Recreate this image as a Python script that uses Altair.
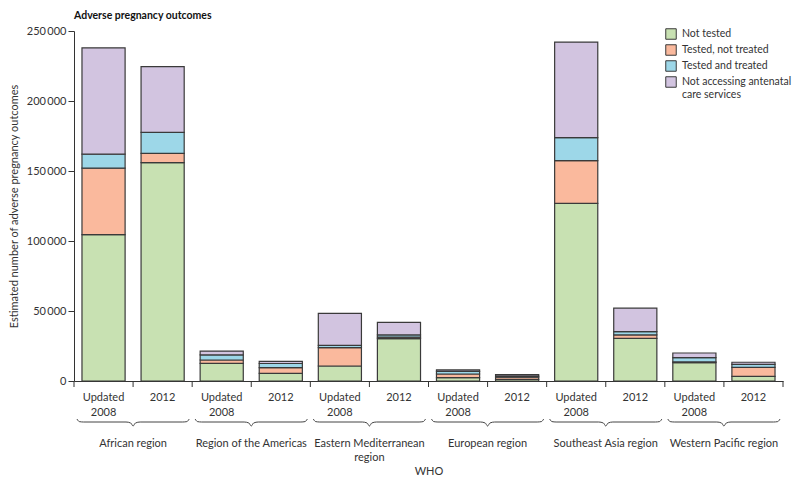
import altair as alt
import pandas as pd

regions = ["African region", "Region of the Americas", "Eastern Mediterranean region",
           "European region", "Southeast Asia region", "Western Pacific region"]
region_labels = ["African region", "Region of the Americas", "Eastern Mediterranean\nregion",
                 "European region", "Southeast Asia region", "Western Pacific region"]
periods = ["Updated 2008", "2012"]
categories = ["Not tested", "Tested, not treated", "Tested and treated",
              "Not accessing antenatal care services"]
colors = ["#c8e1b2", "#fab99d", "#9dd7e8", "#d2c4e0"]

# values per bar (thousands), order: region x period
not_tested = [104.5, 156.0, 12.6, 5.5, 10.7, 30.2, 2.4, 1.2, 126.9, 30.5, 13.1, 3.3]
tested_not_treated = [47.5, 6.6, 2.4, 4.0, 13.1, 1.2, 2.6, 1.5, 30.5, 2.4, 0.5, 6.5]
tested_treated = [10.0, 15.0, 3.6, 3.0, 1.7, 1.5, 1.9, 0.8, 16.4, 2.3, 3.1, 2.1]
not_accessing = [76.0, 47.0, 2.8, 1.5, 22.8, 9.0, 1.0, 1.0, 68.3, 16.8, 3.3, 1.5]

series = [not_tested, tested_not_treated, tested_treated, not_accessing]

W, H = 709, 350
FONT = "Lato"
TXT = "#333333"

keys = [f"{r}|{p}" for r in regions for p in periods]
rows = []
for ci, (cat, vals) in enumerate(zip(categories, series)):
    for k, v in zip(keys, vals):
        rows.append({"bar": k, "category": cat, "rank": ci, "value": v * 1000})
bars_df = pd.DataFrame(rows)

bars = alt.Chart(bars_df).mark_bar(stroke="#3a3a3a", strokeWidth=1.2).encode(
    x=alt.X("bar:N", sort=keys,
            scale=alt.Scale(paddingInner=0.27, paddingOuter=0.135),
            axis=alt.Axis(title="WHO", labelAngle=0, ticks=False,
                          labelExpr="indexof(datum.value, 'Updated') >= 0 ? ['Updated', '2008'] : '2012'",
                          labelLineHeight=15, titlePadding=48,
                          labelPadding=10)),
    y=alt.Y("value:Q", scale=alt.Scale(domain=[0, 250000], nice=False),
            axis=alt.Axis(title="Estimated number of adverse pregnancy outcomes",
                          values=[0, 50000, 100000, 150000, 200000, 250000],
                          labelExpr="replace(format(datum.value, ','), ',', '\u2009')",
                          tickSize=6, titlePadding=7, labelPadding=2)),
    color=alt.Color("category:N", sort=categories,
                    scale=alt.Scale(domain=categories, range=colors),
                    legend=alt.Legend(title=None, orient="none", legendX=591, legendY=-3,
                                      padding=0, symbolType="square", symbolSize=110,
                                      symbolStrokeColor="#3a3a3a", symbolStrokeWidth=1,
                                      labelFontSize=10.5, labelFont=FONT, labelColor=TXT,
                                      rowPadding=0, labelOffset=5, labelLimit=300,
                                      labelExpr="datum.label == 'Not accessing antenatal care services' ? ['Not accessing antenatal', 'care services'] : datum.label")),
    order=alt.Order("rank:Q"),
)

# tick marks at the boundaries between bars (slot edges 0..12)
tick_df = pd.DataFrame({"xpos": list(range(len(keys) + 1))})
ticks = alt.Chart(tick_df).mark_rule(color="#333333", strokeWidth=1, clip=False).encode(
    x=alt.X("xpos:Q", scale=alt.Scale(domain=[0, 12], nice=False, zero=False), axis=None),
    y=alt.value(H),
    y2=alt.value(H + 6),
)

# brace shape template (fraction along region span, depth)
brace_t = [0.025, 0.045, 0.08, 0.44, 0.48, 0.5, 0.52, 0.56, 0.92, 0.955, 0.975]
brace_d = [0, 2.6, 3, 3, 4, 7, 4, 3, 3, 2.6, 0]
brace_rows = []
for ri, r in enumerate(regions):
    for t, d in zip(brace_t, brace_d):
        brace_rows.append({"region": r, "xpos": 2 * ri + 2 * t, "depth": d})
braces = alt.Chart(pd.DataFrame(brace_rows)).mark_line(
    color="#444444", strokeWidth=1, interpolate="monotone", clip=False).encode(
    x=alt.X("xpos:Q", scale=alt.Scale(domain=[0, 12], nice=False, zero=False), axis=None),
    y=alt.Y("depth:Q", scale=alt.Scale(domain=[0, 10], range=[H + 38, H + 48], nice=False, zero=False), axis=None),
    detail="region:N",
)

lab_df = pd.DataFrame({"xpos": [2 * i + 1 for i in range(len(regions))], "label": region_labels})
labels = alt.Chart(lab_df).mark_text(
    font=FONT, fontSize=11, color=TXT, baseline="top", lineBreak="\n", lineHeight=14).encode(
    x=alt.X("xpos:Q", scale=alt.Scale(domain=[0, 12], nice=False, zero=False), axis=None),
    y=alt.value(H + 57),
    text="label:N",
)

chart = alt.layer(bars, ticks, braces, labels).resolve_scale(
    x="independent", y="independent"
).properties(
    width=W, height=H,
    title=alt.Title("Adverse pregnancy outcomes", anchor="start", frame="group",
                    fontSize=10.5, fontWeight="bold", font=FONT, color="#111111", offset=4),
    padding={"left": 0, "right": 0, "top": 2, "bottom": 0},
).configure_view(stroke=None).configure_axis(
    labelFont=FONT, titleFont=FONT, labelFontSize=11, titleFontSize=11,
    labelColor=TXT, titleColor=TXT, titleFontWeight="normal",
    domainColor="#333333", tickColor="#333333", grid=False,
)

chart.save("out.html", embed_options={"renderer": "svg", "actions": False})
